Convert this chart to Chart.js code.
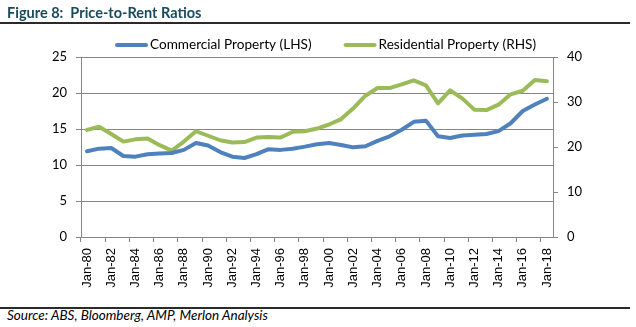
<!DOCTYPE html>
<html>
<head>
<meta charset="utf-8">
<script src="https://cdn.jsdelivr.net/npm/chart.js@4.4.1/dist/chart.umd.min.js"></script>
<style>
html,body{margin:0;padding:0;background:#fff;}
body{position:relative;width:636px;height:327px;overflow:hidden;}
#title{position:absolute;left:7px;top:5px;font:bold 14.5px Lato;line-height:15px;color:#1B4A5C;white-space:pre;}
.rule{position:absolute;left:0;width:630px;height:2px;background:#2a2a2a;}
#src{position:absolute;left:7px;top:309px;font:italic 13.5px Lato;line-height:13px;color:#000;white-space:pre;}
#c{position:absolute;left:0;top:0;}
</style>
</head>
<body>
<canvas id="c" width="636" height="305"></canvas>
<div id="title">Figure 8:  Price-to-Rent Ratios</div>
<div class="rule" style="top:22px"></div>
<div class="rule" style="top:307px"></div>
<div id="src">Source: ABS, Bloomberg, AMP, Merlon Analysis</div>
<script>
const categories = ["Jan-80","Jan-81","Jan-82","Jan-83","Jan-84","Jan-85","Jan-86","Jan-87","Jan-88","Jan-89",
  "Jan-90","Jan-91","Jan-92","Jan-93","Jan-94","Jan-95","Jan-96","Jan-97","Jan-98","Jan-99",
  "Jan-00","Jan-01","Jan-02","Jan-03","Jan-04","Jan-05","Jan-06","Jan-07","Jan-08","Jan-09",
  "Jan-10","Jan-11","Jan-12","Jan-13","Jan-14","Jan-15","Jan-16","Jan-17","Jan-18"];
const commercial = [11.9,12.27,12.36,11.25,11.16,11.5,11.6,11.67,12.1,13.05,
  12.7,11.8,11.16,10.97,11.5,12.2,12.1,12.27,12.55,12.87,
  13.05,12.78,12.45,12.6,13.35,13.98,14.9,16.0,16.16,13.98,
  13.75,14.1,14.2,14.3,14.7,15.8,17.5,18.4,19.2];
const residential = [23.8,24.5,22.9,21.2,21.7,21.9,20.4,19.2,21.2,23.5,
  22.5,21.5,21.0,21.1,22.1,22.2,22.1,23.4,23.5,24.1,
  25.0,26.2,28.6,31.4,33.1,33.1,33.9,34.8,33.7,29.7,
  32.6,30.8,28.3,28.2,29.4,31.7,32.5,34.9,34.6];
const leftTicks = [0,5,10,15,20,25];
const rightTicks = [0,10,20,30,40];
const seriesNames = ["Commercial Property (LHS)","Residential Property (RHS)"];

const GRID = '#868686';
const legendPlugin = {
  id: 'xlLegend',
  afterDraw(chart) {
    const ctx = chart.ctx;
    ctx.save();
    ctx.font = '13.6px Lato';
    ctx.textBaseline = 'middle';
    ctx.textAlign = 'left';
    const y = 45;
    let x = 115;
    chart.data.datasets.forEach((ds) => {
      ctx.strokeStyle = ds.borderColor;
      ctx.lineWidth = 4;
      ctx.lineCap = 'round';
      ctx.beginPath(); ctx.moveTo(x + 2, y); ctx.lineTo(x + 31, y); ctx.stroke();
      x += 35;
      ctx.fillStyle = '#000';
      ctx.fillText(ds.label, x, y);
      x += ctx.measureText(ds.label).width + 32;
    });
    ctx.restore();
  }
};

Chart.defaults.font.family = 'Lato';
new Chart(document.getElementById('c'), {
  type: 'line',
  data: {
    labels: categories,
    datasets: [
      {label: seriesNames[0], data: commercial, yAxisID: 'y', borderColor: '#4F81BD', backgroundColor: '#4F81BD',
       borderWidth: 4, pointRadius: 0, tension: 0, borderJoinStyle: 'round', borderCapStyle: 'round'},
      {label: seriesNames[1], data: residential, yAxisID: 'y1', borderColor: '#9BBB59', backgroundColor: '#9BBB59',
       borderWidth: 4, pointRadius: 0, tension: 0, borderJoinStyle: 'round', borderCapStyle: 'round'}
    ]
  },
  options: {
    responsive: false,
    animation: false,
    devicePixelRatio: 1,
    layout: {padding: {top: 57, left: 0, right: 0, bottom: 0}},
    plugins: {legend: {display: false}, tooltip: {enabled: false}},
    scales: {
      x: {
        type: 'category',
        offset: true,
        grid: {offset: true, drawOnChartArea: false, drawTicks: true, tickLength: 5,
               color: (c) => (c.index % 2 === 0 ? GRID : 'rgba(0,0,0,0)')},
        border: {color: GRID, width: 1},
        ticks: {autoSkip: false, minRotation: 90, maxRotation: 90, padding: 6, color: '#000',
                font: {family: 'Liberation Sans', size: 13},
                callback: (v, i) => (i % 2 === 0 ? categories[i] : '')},
        afterFit: (s) => { s.height = 68; }
      },
      y: {
        position: 'left', min: 0, max: 25,
        afterBuildTicks: (s) => { s.ticks = leftTicks.map(v => ({value: v})); },
        grid: {color: GRID, tickLength: 5, drawTicks: true},
        border: {color: GRID, width: 1},
        ticks: {padding: 9, color: '#000', font: {family: 'Lato', size: 13}},
        afterFit: (s) => { s.width = 81; }
      },
      y1: {
        position: 'right', min: 0, max: 40,
        afterBuildTicks: (s) => { s.ticks = rightTicks.map(v => ({value: v})); },
        grid: {drawOnChartArea: false, color: GRID, tickLength: 5, drawTicks: true},
        border: {color: GRID, width: 1},
        ticks: {padding: 9, color: '#000', font: {family: 'Lato', size: 13}},
        afterFit: (s) => { s.width = 83; }
      }
    }
  },
  plugins: [legendPlugin]
});
</script>
</body>
</html>
